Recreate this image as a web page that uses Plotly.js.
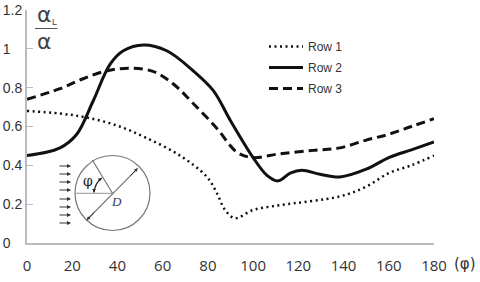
<!DOCTYPE html>
<html><head><meta charset="utf-8">
<script src="https://cdn.plot.ly/plotly-3.0.1.min.js"></script>
<style>html,body{margin:0;padding:0;background:#fff}</style></head>
<body><div id="chart" style="width:480px;height:282px"></div>
<script>
const row1X=[0,14.6,26.5,39.8,53,67.7,79.6,84,87.6,92,100,112,138.4,150,160,170,180];
const row1Y=[.68,.667,.646,.605,.54,.45,.34,.256,.17,.128,.17,.195,.24,.29,.36,.40,.45];
const row2X=[0,14.6,22,29.2,36.7,42.6,51.5,61.8,73.5,82.4,90,100,106,111,116.4,121.6,129.6,138.4,150,160,170,180];
const row2Y=[.45,.49,.56,.73,.92,.99,1.02,.99,.887,.785,.63,.44,.35,.32,.36,.375,.354,.34,.38,.44,.48,.52];
const row3X=[0,14.6,24.8,35.4,45.6,55.7,64.6,73.4,84,92.9,100,112,126.6,138.4,150,160,170,180];
const row3Y=[.74,.795,.846,.887,.90,.884,.82,.72,.59,.467,.44,.46,.477,.49,.53,.56,.60,.64];
const xTicks=[0,20,40,60,80,100,120,140,160,180];
const yTicks=[0,.2,.4,.6,.8,1,1.2];
const yLabels=['0\u00a0\u00a0\u00a0','0.2','0.4','0.6','0.8','1\u00a0\u00a0\u00a0','1.2'];
const arrowRows=[166,174,182,190,199,207,215,223];

const W=480,H=282,L=27,R=46,T=10,B=39;
const px=x=>(x-L)/(W-L-R), py=y=>1-(y-T)/(H-T-B);
const seg=(x0,y0,x1,y1,color,width)=>({type:'line',xref:'paper',yref:'paper',x0:px(x0),y0:py(y0),x1:px(x1),y1:py(y1),line:{color,width}});
const ann=(x,y,text,font)=>({xref:'paper',yref:'paper',x:px(x),y:py(y),text,showarrow:false,xanchor:'center',yanchor:'middle',font});
const arrow=(x,y,dx,dy,c,w,s)=>({xref:'paper',yref:'paper',x:px(x),y:py(y),ax:dx,ay:dy,axref:'pixel',ayref:'pixel',text:'',showarrow:true,arrowhead:2,arrowsize:s||0.8,arrowwidth:w||1,arrowcolor:c||'#333',standoff:0,startstandoff:0});

const shapes=[
 {type:'circle',xref:'paper',yref:'paper',x0:px(75),x1:px(150),y0:py(155.5),y1:py(230.5),line:{color:'#777',width:1.2}},
 seg(75,193.3,112.5,193.3,'#aaa',1.3),
 seg(112.5,193.3,92.3,160,'#777',1.2),
 seg(86.7,220,137.7,168.3,'#777',1.2),
 {type:'path',xref:'paper',yref:'paper',line:{color:'#222',width:1.2},
  path:`M ${px(94)} ${py(192.5)} Q ${px(95)} ${py(183)} ${px(101.7)} ${py(178)}`},
 seg(35,28.5,57.5,28.5,'#555',1)
];
const annotations=[
 ann(44.5,15,'α',{family:'DejaVu Sans',size:22,color:'#444'}),
 ann(54,22,'L',{family:'Liberation Sans',size:9,color:'#444'}),
 ann(44.5,41,'α',{family:'DejaVu Sans',size:22,color:'#444'}),
 ann(88,181,'φ',{family:'DejaVu Serif',size:14,color:'#222'}),
 ann(116.5,201,'<i>D</i>',{family:'Liberation Serif',size:13,color:'#2a3a55'}),
 ann(465,264,'(φ)',{family:'DejaVu Sans',size:15,color:'#333'}),
 arrow(86.7,220,9,-9,'#333',1,0.7),
 arrow(137.7,168.3,-9,9,'#333',1,0.7),
 arrow(101.7,178,-4,3,'#222',1,0.7),
 arrow(94,192.5,0,-4,'#222',1,0.7)
].concat(arrowRows.map(y=>arrow(71,y,-13,0)));

const traces=[
 {x:row1X,y:row1Y,name:'Row 1',legendgroup:'a',line:{color:'#111',width:2.5,dash:'2px 3.5px',shape:'spline',smoothing:1}},
 {x:row2X,y:row2Y,name:'Row 2',legendgroup:'b',line:{color:'#111',width:3,shape:'spline',smoothing:1}},
 {x:row3X,y:row3Y,name:'Row 3',legendgroup:'c',line:{color:'#111',width:3,dash:'9px 5px',shape:'spline',smoothing:1}}
].map(t=>Object.assign({type:'scatter',mode:'lines',hoverinfo:'skip'},t));

const layout={width:W,height:H,margin:{l:L,r:R,t:T,b:B,pad:0},paper_bgcolor:'#fff',plot_bgcolor:'#fff',
 font:{family:'Liberation Sans',color:'#333'},
 xaxis:{range:[0,180],tickvals:xTicks,ticktext:xTicks.map(String),ticks:'',showgrid:false,zeroline:false,showline:true,linecolor:'#bbb',linewidth:2,
  tickfont:{family:'Open Sans',size:15,color:'#333'},ticklabelstandoff:8},
 yaxis:{range:[0,1.2],tickvals:yTicks,ticktext:yLabels,ticks:'inside',ticklen:6,tickcolor:'#bbb',tickwidth:1,showgrid:false,zeroline:false,showline:true,linecolor:'#bbb',linewidth:2,
  tickfont:{family:'Liberation Sans',size:14,color:'#333'}},
 showlegend:true,
 legend:{x:px(264),y:py(32),xanchor:'left',yanchor:'top',bgcolor:'rgba(0,0,0,0)',traceorder:'grouped',tracegroupgap:2,itemwidth:34,font:{family:'Liberation Sans',size:12,color:'#333'}},
 shapes,annotations};
Plotly.newPlot('chart',traces,layout,{displayModeBar:false,staticPlot:true});
</script></body></html>
